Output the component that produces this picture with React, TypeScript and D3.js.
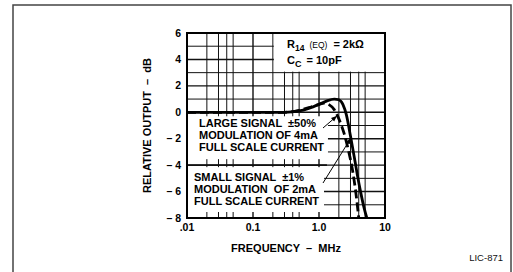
import * as d3 from 'd3';

// frequency response (MHz -> dB)
const smallFreq = [0.01, 0.1, 0.3, 0.5, 0.7, 1.0, 1.3, 1.7, 2.0, 2.3, 2.6, 3.0, 3.4, 3.8, 4.3, 4.8, 5.3];
const smallDb = [0, 0, 0, 0.1, 0.3, 0.6, 0.85, 1.0, 0.95, 0.6, -0.2, -1.8, -3.3, -4.7, -6.1, -7.2, -8];
const largeFreq = [0.01, 0.1, 0.3, 0.5, 0.7, 1.0, 1.2, 1.4, 1.7, 2.0, 2.4, 2.8, 3.2, 3.6, 4.0];
const largeDb = [0, 0, 0, 0.15, 0.35, 0.6, 0.7, 0.6, 0.2, -0.5, -1.6, -2.9, -4.3, -6.0, -8];

const xTickVals = [0.01, 0.1, 1, 10];
const xTickLabels = ['.01', '0.1', '1.0', '10'];
const yTickVals = [6, 4, 2, 0, -2, -4, -6, -8];
const yTickLabels = ['6', '4', '2', '0', '– 2', '– 4', '– 6', '– 8'];
const gridMult = [1, 2, 3, 4, 5];
const gridDecades = [0.01, 0.1, 1];
const gridDb = [6, 5, 4, 3, 2, 1, 0, -1, -2, -3, -4, -5, -6, -7, -8];

const largeNote = ['LARGE SIGNAL  ±50%', 'MODULATION OF 4mA', 'FULL SCALE CURRENT'];
const smallNote = ['SMALL SIGNAL  ±1%', 'MODULATION  OF 2mA', 'FULL SCALE CURRENT'];

const W = 513;
const H = 272;
const font = '"Liberation Sans", Arial, sans-serif';

export default function App() {
  const x = d3.scaleLog().domain([0.01, 10]).range([187, 385]);
  const y = d3.scaleLinear().domain([-8, 6]).range([218, 33]);

  const vGrid: number[] = [];
  gridDecades.forEach(d => gridMult.forEach(m => vGrid.push(d * m)));
  vGrid.push(10);

  const line = d3.line<[number, number]>()
    .x(d => x(d[0]))
    .y(d => y(d[1]))
    .curve(d3.curveMonotoneX);

  const small = smallFreq.map((f, i) => [f, smallDb[i]] as [number, number]);
  const large = largeFreq.map((f, i) => [f, largeDb[i]] as [number, number]);

  const left = x(0.01);
  const right = x(10);

  return (
    <svg width={W} height={H} style={{ position: 'absolute', left: 0, top: 0, background: '#fff' }}
      fontFamily={font}>
      <defs>
        <marker id="arr" viewBox="0 0 10 10" refX="9" refY="5" markerWidth="6" markerHeight="6" orient="auto">
          <path d="M0,1 L10,5 L0,9 z" fill="#000" />
        </marker>
        <clipPath id="plot">
          <rect x={left} y={y(6)} width={right - left} height={y(-8) - y(6)} />
        </clipPath>
      </defs>
      {/* outer frame */}
      <rect x={13} y={5} width={498} height={280} fill="none" stroke="#444" strokeWidth={1.5} />

      {/* grid */}
      <g stroke="#111">
        {gridDb.map(v => (
          <line key={'h' + v} x1={left} x2={right} y1={y(v)} y2={y(v)}
            strokeWidth={v % 2 === 0 ? 1.4 : 1} />
        ))}
        {vGrid.map(v => (
          <line key={'v' + v} x1={x(v)} x2={x(v)} y1={y(6)} y2={y(-8)}
            strokeWidth={gridDecades.includes(v) ? 1.4 : 1} />
        ))}
      </g>

      {/* annotation panels */}
      <rect x={x(0.2) + 1} y={y(6) + 1} width={right - x(0.2) - 2} height={y(3) - y(6) - 2} fill="#fff" />
      <rect x={left + 1} y={y(0) + 4} width={x(1.32) - left} height={y(-4) - y(0) - 10} fill="#fff" />
      <rect x={left + 1} y={y(-4) + 2} width={x(1.15) - left} height={y(-8) - y(-4) - 8} fill="#fff" />
      <line x1={left} x2={x(1.32)} y1={y(-4)} y2={y(-4)} stroke="#111" strokeWidth={1.6} />

      {/* frame of plot */}
      <rect x={left} y={y(6)} width={right - left} height={y(-8) - y(6)} fill="none" stroke="#000" strokeWidth={2} />

      {/* curves */}
      <g clipPath="url(#plot)" fill="none" stroke="#000" strokeWidth={2.8}>
        <path d={line(small) || ''} />
        <path d={line(large) || ''} strokeDasharray="9 4" />
      </g>

      {/* arrows */}
      <line x1={323} y1={128} x2={x(1.85)} y2={y(-0.3)} stroke="#000" strokeWidth={1} markerEnd="url(#arr)" />
      <line x1={323} y1={183} x2={x(3.0)} y2={y(-2)} stroke="#000" strokeWidth={1} markerEnd="url(#arr)" />

      {/* notes */}
      <g fontSize={11} fontWeight="bold" fill="#000">
        {largeNote.map((t, i) => (
          <text key={'l' + i} x={199} y={127 + i * 12} xmlSpace="preserve">{t}</text>
        ))}
        {smallNote.map((t, i) => (
          <text key={'s' + i} x={194} y={181 + i * 12} xmlSpace="preserve">{t}</text>
        ))}
        <text x={287} y={48}>
          R<tspan fontSize={8.5} dy={3}>14</tspan>
          <tspan fontSize={8.5} fontWeight="normal" dy={-3} dx={5}>(EQ)</tspan>
          <tspan dx={6}>=  2kΩ</tspan>
        </text>
        <text x={287} y={64}>
          C<tspan fontSize={9} dy={3}>C</tspan>
          <tspan dy={-3} dx={5}>=  10pF</tspan>
        </text>
      </g>

      {/* tick labels */}
      <g fontSize={10.5} fontWeight="bold" fill="#000">
        {yTickVals.map((v, i) => (
          <text key={'yt' + v} x={left - 6} y={y(v) + 3.5} textAnchor="end" xmlSpace="preserve">{yTickLabels[i]}</text>
        ))}
        {xTickVals.map((v, i) => (
          <text key={'xt' + v} x={x(v)} y={231} textAnchor="middle">{xTickLabels[i]}</text>
        ))}
        <text x={286} y={252} textAnchor="middle" fontSize={11} xmlSpace="preserve">FREQUENCY  –  MHz</text>
        <text transform={`translate(151,${(y(6) + y(-8)) / 2}) rotate(-90)`} textAnchor="middle" fontSize={11} xmlSpace="preserve">
          RELATIVE OUTPUT  –  dB
        </text>
      </g>
      <text x={503} y={261} textAnchor="end" fontSize={9.5} fill="#111">LIC-871</text>
    </svg>
  );
}
